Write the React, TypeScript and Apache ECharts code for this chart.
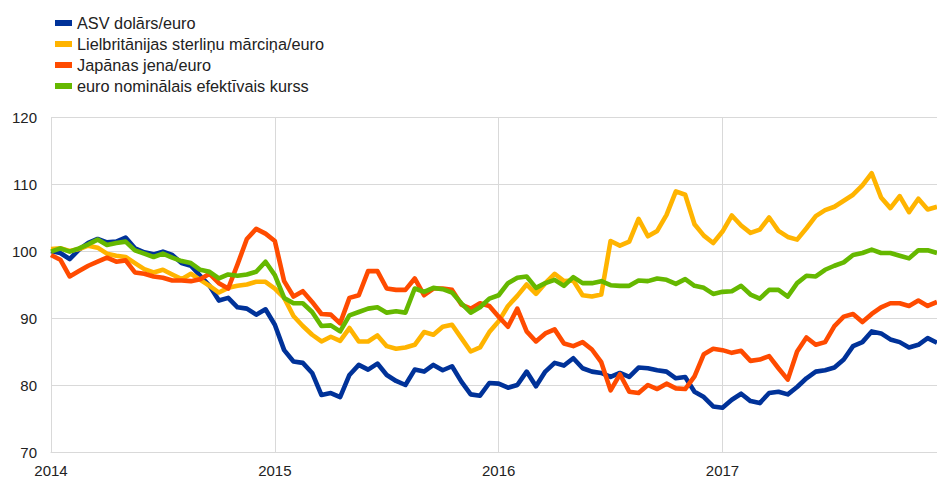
import React, { useEffect, useRef } from "react";
import * as echarts from "echarts";

// Half-monthly observation dates, Jan 2014 – Dec 2017
const years = ["2014", "2015", "2016", "2017"];
const months = ["01", "02", "03", "04", "05", "06", "07", "08", "09", "10", "11", "12"];
const dates: string[] = [];
years.forEach((y) =>
  months.forEach((m) => {
    dates.push(`${y}-${m}-01`);
    dates.push(`${y}-${m}-16`);
  })
);

const seriesNames = [
  "ASV dolārs/euro",
  "Lielbritānijas sterliņu mārciņa/euro",
  "Japānas jena/euro",
  "euro nominālais efektīvais kurss",
];

const usd = [
  100.0, 99.7, 98.8, 100.2, 101.2, 101.8, 101.3, 101.4, 102.0, 100.4, 99.8, 99.5,
  99.9, 99.4, 98.2, 97.8, 96.3, 94.8, 92.6, 93.0, 91.6, 91.4, 90.5, 91.3,
  89.0, 85.2, 83.5, 83.3, 81.8, 78.5, 78.8, 78.2, 81.5, 83.0, 82.3, 83.2,
  81.5, 80.6, 80.0, 82.3, 82.0, 83.0, 82.2, 82.8, 80.5, 78.6, 78.4, 80.3,
  80.2, 79.6, 80.0, 82.0, 79.8, 82.0, 83.3, 82.9, 84.0, 82.5, 82.0, 81.8,
  81.2, 81.8, 81.2, 82.6, 82.5, 82.2, 82.0, 81.0, 81.2, 79.0, 78.2, 76.8,
  76.6, 77.8, 78.7, 77.6, 77.3, 78.8, 79.0, 78.6, 79.7, 81.0, 82.0, 82.2,
  82.6, 83.8, 85.8, 86.4, 88.0, 87.7, 86.8, 86.4, 85.6, 86.0, 87.0, 86.3,
];

const gbp = [
  100.3, 100.4, 100.0, 100.3, 100.8, 100.5, 99.6, 99.3, 99.1, 98.2, 97.3, 96.8,
  97.2, 96.5, 95.8, 96.6, 95.7, 94.8, 93.8, 94.5, 94.8, 95.0, 95.4, 95.4,
  94.4, 93.0, 90.3, 88.8, 87.5, 86.5, 87.2, 86.6, 88.5, 86.5, 86.5, 87.4,
  85.8, 85.4, 85.6, 86.0, 87.9, 87.5, 88.7, 89.0, 87.0, 85.0, 85.6, 87.9,
  89.5, 91.8, 93.3, 95.0, 93.6, 95.2, 96.6, 95.5, 95.6, 93.4, 93.2, 93.5,
  101.5, 100.8, 101.4, 104.8, 102.2, 103.0, 105.4, 108.9, 108.4, 104.0, 102.3, 101.2,
  102.9, 105.3, 103.8, 102.7, 103.2, 105.0, 103.0, 102.1, 101.7, 103.4, 105.2, 106.1,
  106.6, 107.5, 108.4, 109.8, 111.6, 108.0, 106.4, 108.2, 105.8, 107.8, 106.2, 106.6,
];

const jpy = [
  99.4, 98.7, 96.2, 97.0, 97.8, 98.4, 99.0, 98.4, 98.6, 96.8, 96.6, 96.2,
  96.0, 95.6, 95.6, 95.5, 95.8, 96.6, 95.2, 94.4, 98.0, 101.8, 103.3, 102.6,
  101.5, 95.5, 93.2, 94.0, 92.4, 90.6, 90.5, 89.2, 93.0, 93.4, 97.0, 97.0,
  94.4, 94.2, 94.2, 95.9, 93.4, 94.4, 94.4, 94.2, 92.0, 91.4, 92.2, 91.8,
  90.2, 88.7, 91.4, 88.0, 86.5, 87.7, 88.3, 86.2, 85.8, 86.4, 85.3, 83.4,
  79.2, 81.6, 79.0, 78.8, 80.0, 79.4, 80.2, 79.5, 79.4, 81.3, 84.6, 85.4,
  85.2, 84.8, 85.1, 83.6, 83.8, 84.3, 82.5, 80.8, 85.0, 87.1, 86.0, 86.4,
  88.8, 90.2, 90.6, 89.4, 90.6, 91.6, 92.2, 92.2, 91.8, 92.6, 91.8, 92.4,
];

const neer = [
  99.9, 100.4, 99.9, 100.4, 101.0, 101.7, 100.9, 101.2, 101.4, 100.1, 99.6, 99.1,
  99.6, 99.0, 98.5, 98.2, 97.2, 96.9, 95.9, 96.5, 96.3, 96.5, 96.9, 98.4,
  96.4, 93.0, 92.2, 92.2, 90.9, 88.8, 88.9, 88.0, 90.4, 90.9, 91.4, 91.6,
  90.8, 91.0, 90.8, 94.4, 93.9, 94.5, 94.3, 93.8, 92.2, 90.8, 91.6, 92.9,
  93.4, 95.2, 96.0, 96.2, 94.5, 95.2, 95.7, 94.8, 96.1, 95.2, 95.2, 95.5,
  94.9, 94.8, 94.8, 95.6, 95.5, 95.9, 95.7, 95.1, 95.8, 94.8, 94.5, 93.6,
  93.9, 94.0, 94.8, 93.5, 92.9, 94.2, 94.2, 93.2, 95.2, 96.3, 96.2, 97.2,
  97.8, 98.3, 99.4, 99.7, 100.2, 99.7, 99.7, 99.3, 98.9, 100.1, 100.1, 99.7,
];

const colors = ["#003299", "#FFB400", "#FF4B00", "#65B800"];
const FONT = 'Arial, "Liberation Sans", sans-serif';

export default function App() {
  const ref = useRef<HTMLDivElement>(null);
  useEffect(() => {
    if (!ref.current) return;
    const chart = echarts.init(ref.current, undefined, { renderer: "svg" });
    const isYearStart = (i: number) => i % 24 === 0;
    chart.setOption({
      animation: false,
      color: colors,
      textStyle: { fontFamily: FONT },
      legend: {
        orient: "vertical",
        left: 50,
        top: 10,
        itemWidth: 17,
        itemHeight: 6,
        itemGap: 5,
        icon: "rect",
        textStyle: { fontSize: 16.3, color: "#222", fontFamily: FONT, lineHeight: 16 },
        data: seriesNames,
      },
      grid: { left: 51, right: 0, top: 117, bottom: 26, containLabel: false },
      xAxis: {
        type: "category",
        data: dates.slice(0, usd.length),
        boundaryGap: false,
        axisLine: { show: true, lineStyle: { color: "#d9d9d9", width: 1 } },
        axisTick: { show: false },
        axisLabel: {
          interval: (i: number) => isYearStart(i),
          formatter: (v: string) => v.slice(0, 4),
          color: "#222",
          fontSize: 15,
          fontFamily: FONT,
          margin: 11,
        },
        splitLine: {
          show: true,
          interval: (i: number) => isYearStart(i),
          lineStyle: { color: "#d9d9d9", width: 1 },
        },
      },
      yAxis: {
        type: "value",
        min: 70,
        max: 120,
        interval: 10,
        axisLine: { show: false },
        axisTick: { show: false },
        axisLabel: { color: "#222", fontSize: 15, fontFamily: FONT, margin: 14 },
        splitLine: { show: true, lineStyle: { color: "#d9d9d9", width: 1 } },
      },
      series: [usd, gbp, jpy, neer].map((d, k) => ({
        name: seriesNames[k],
        type: "line",
        data: d,
        symbol: "none",
        lineStyle: { width: 4.6, color: colors[k], join: "round" },
        itemStyle: { color: colors[k] },
      })),
    });
    return () => chart.dispose();
  }, []);
  return (
    <div
      ref={ref}
      style={{ position: "fixed", left: 0, top: 0, width: 937, height: 478, background: "#fff" }}
    />
  );
}
